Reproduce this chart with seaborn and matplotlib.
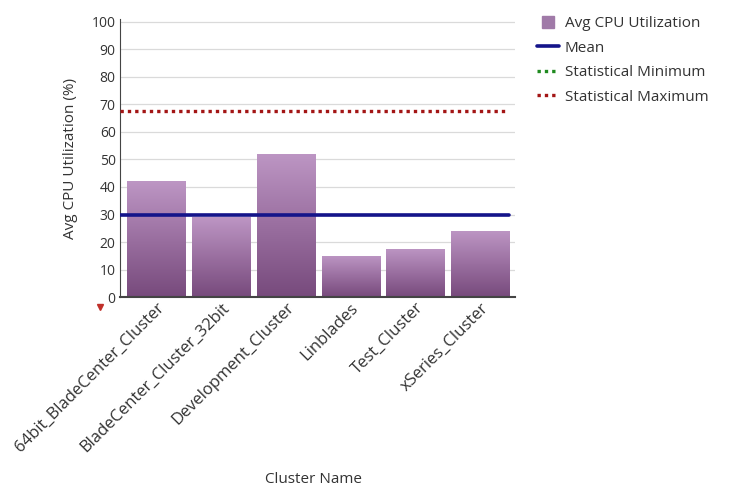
import numpy as np
import pandas as pd
import matplotlib
matplotlib.use('Agg')
import matplotlib.pyplot as plt
from matplotlib.colors import LinearSegmentedColormap
from matplotlib.lines import Line2D
import seaborn as sns

#%% data
clusters = ['64bit_BladeCenter_Cluster', 'BladeCenter_Cluster_32bit', 'Development_Cluster',
            'Linblades', 'Test_Cluster', 'xSeries_Cluster']
avg_cpu = [42, 29, 52, 15, 17.5, 24]
mean_value = 30
stat_min = -8      # below the visible range
stat_max = 67.5
y_ticks = list(range(0, 101, 10))

sns.set_style('white')
plt.rcParams['font.family'] = ['Open Sans', 'DejaVu Sans']
text_col = '#333333'

fig = plt.figure(figsize=(7.31, 5.01), dpi=100)
ax = fig.add_axes([0.164, 0.407, 0.541, 0.555])

df = pd.DataFrame({'cluster': clusters, 'cpu': avg_cpu})
sns.barplot(data=df, x='cluster', y='cpu', color='#9c74a3', width=0.9,
            saturation=1, ax=ax)

# vertical purple gradient inside each bar
grad_cmap = LinearSegmentedColormap.from_list('bar', ['#774a7c', '#9a6fa0', '#bd96c4'])
grad = np.linspace(0, 1, 256).reshape(-1, 1)
for p in ax.patches:
    x0, y0 = p.get_x(), p.get_y()
    im = ax.imshow(grad, extent=[x0, x0 + p.get_width(), y0, y0 + p.get_height()],
                   origin='lower', aspect='auto', cmap=grad_cmap, zorder=2)
    im.set_clip_path(p)
    p.set_edgecolor('none')

ax.axhline(mean_value, xmax=0.985, color='#14148a', lw=2.6, zorder=4)
ax.axhline(stat_min, color='#1f8a1f', lw=2.4, ls=(0, (1, 1.2)), zorder=4)
ax.axhline(stat_max, xmax=0.975, color='#a31515', lw=2.4, ls=(0, (1, 1.2)), zorder=4)

ax.set_xlim(-0.56, 5.54)
ax.set_ylim(0, 101)
ax.set_yticks(y_ticks)
ax.set_axisbelow(True)
ax.yaxis.grid(True, color='#dadada', lw=0.9)
for s in ['top', 'right']:
    ax.spines[s].set_visible(False)
ax.spines['left'].set_color('#444444')
ax.spines['bottom'].set_color('#444444')
ax.spines['bottom'].set_linewidth(1.5)
ax.tick_params(axis='y', length=0, labelsize=10, colors=text_col, pad=3)
ax.tick_params(axis='x', length=0, labelsize=12, colors=text_col, pad=2)
plt.setp(ax.get_xticklabels(), rotation=45, ha='right', rotation_mode='anchor')

ax.set_xlabel('Cluster Name', fontsize=11, color=text_col)
ax.xaxis.set_label_coords(0.49, -0.63)
ax.set_ylabel('Avg CPU Utilization (%)', fontsize=11, color=text_col)
ax.yaxis.set_label_coords(-0.105, 0.5)

# small out-of-range indicator under the axis
ax.plot([-0.05], [-0.035], marker='v', color='#c0302a', markersize=5,
        transform=ax.transAxes, clip_on=False)

handles = [
    Line2D([], [], marker='s', ls='none', color='#a07aa8', markersize=8),
    Line2D([], [], color='#14148a', lw=2.6),
    Line2D([], [], color='#1f8a1f', lw=2.4, ls=(0, (1, 1.2))),
    Line2D([], [], color='#a31515', lw=2.4, ls=(0, (1, 1.2))),
]
labels = ['Avg CPU Utilization', 'Mean', 'Statistical Minimum', 'Statistical Maximum']
leg = fig.legend(handles, labels, loc='upper left', bbox_to_anchor=(0.716, 0.995),
                 frameon=False, fontsize=11, handlelength=1.4, handletextpad=0.4,
                 labelspacing=0.62)
for t in leg.get_texts():
    t.set_color(text_col)

fig.savefig('out.png', dpi=100)
